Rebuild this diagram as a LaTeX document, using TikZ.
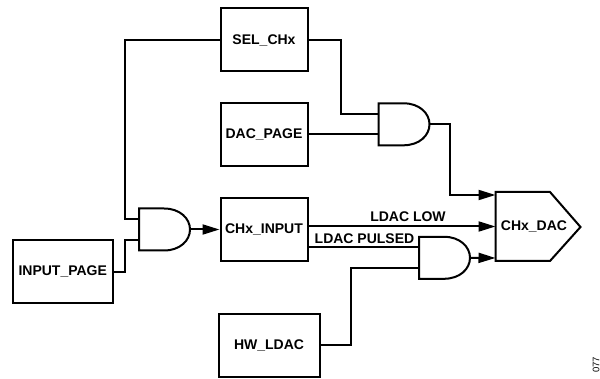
\documentclass[tikz,border=0pt]{standalone}
\usepackage{fontspec}
\setmainfont{Liberation Sans}
\usetikzlibrary{arrows.meta,calc}
\tikzset{
  wire/.style={line width=2pt,line join=miter},
  arrowwire/.style={wire,-{Triangle[length=17pt,width=10pt]}},
  blockbox/.style={draw,line width=2pt,inner sep=0pt,font=\fontsize{14}{16}\selectfont\bfseries},
  gatebody/.style={draw,line width=2pt,line join=miter},
  sig/.style={inner sep=0pt,font=\fontsize{14}{16}\selectfont\bfseries},
  gateanchor/.style={inner sep=0pt,minimum width=51pt,minimum height=42pt},
}
% name, left x, centre y
\newcommand{\andgate}[3]{%
  \node[gateanchor] (#1) at ({#2+25.5},#3) {};
  \draw[gatebody] (#2,{#3-21}) -- ({#2+25},{#3-21})
    .. controls ({#2+41},{#3-21}) and ({#2+51},{#3-11}) .. ({#2+51},#3)
    .. controls ({#2+51},{#3+11}) and ({#2+41},{#3+21}) .. ({#2+25},{#3+21})
    -- (#2,{#3+21}) -- cycle;
  \coordinate (#1a) at (#2,{#3-10.5});
  \coordinate (#1b) at (#2,{#3+10.5});
}
\begin{document}
\begin{tikzpicture}[x=1pt,y=-1pt]
\useasboundingbox (0,0) rectangle (600,379);
\node[blockbox,minimum width=87pt,minimum height=63pt] (sel) at (264,40) {SEL\_CHx};
\node[blockbox,minimum width=87pt,minimum height=63pt] (dacpage) at (264,134.5) {DAC\_PAGE};
\node[blockbox,minimum width=87pt,minimum height=63pt] (input) at (264,229.5) {CHx\_INPUT};
\node[blockbox,minimum width=101pt,minimum height=63pt] (hw) at (269,345.5) {HW\_LDAC};
\node[blockbox,minimum width=99.5pt,minimum height=63pt] (page) at (62.75,271.75) {INPUT\_PAGE};
\andgate{gone}{378.5}{124.3}
\andgate{gtwo}{139}{229.5}
\andgate{gthree}{419}{257.8}
% DAC
\node[sig] (dac) at (534,226.3) {CHx\_DAC};
\draw[gatebody] (495.5,192) -- (550,192) -- (580.5,227) -- (550,261) -- (495.5,261) -- cycle;
\coordinate (dacl) at (495.5,195);
\coordinate (dacm) at (495.5,226.5);
\coordinate (dacb) at (495.5,258);
% connectors
\draw[wire] (sel.west) -| (125,219) -- (gtwoa);
\draw[wire] (page.east) -| (125,240) -- (gtwob);
\draw[arrowwire] (gtwo.east) -- (input.west);
\draw[wire] (sel.east) -| (340.5,113.8) -- (gonea);
\draw[wire] (dacpage.east) -- (goneb |- dacpage.east);
\draw[arrowwire] (gone.east) -| (450,195) -- (dacl);
\draw[arrowwire] (input.east) ++(0,-3) -- (dacm);
\draw[wire] (input.east |- gthreea) -- (gthreea);
\draw[wire] (hw.east) -| (351,268.3) -- (gthreeb);
\draw[arrowwire] (gthree.east) -- (dacb);
% labels
\node[sig] (low) at (408,216.5) {LDAC LOW};
\node[sig] (pulsed) at (364.5,238.5) {LDAC PULSED};
\node[inner sep=0pt,rotate=90,font=\fontsize{9.5}{11}\selectfont] (fig) at (596,365) {077};
\end{tikzpicture}
\end{document}
